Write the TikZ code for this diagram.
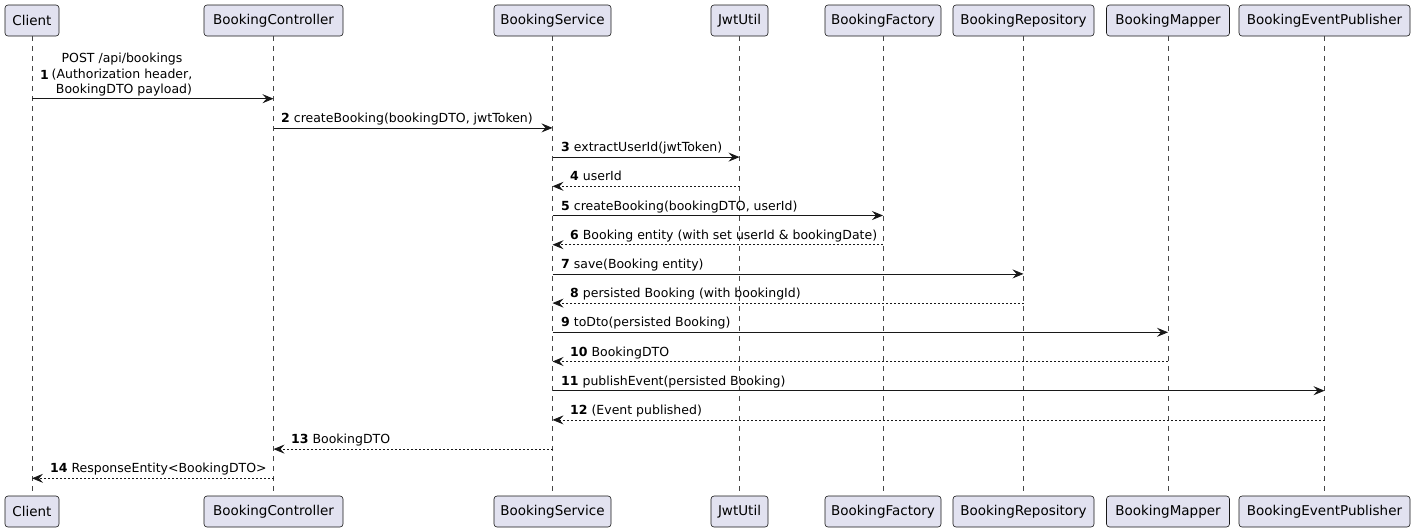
\documentclass[tikz,border=0pt]{standalone}
\usepackage{fontspec}
\setmainfont{DejaVu Sans}
\usetikzlibrary{arrows.meta}
\definecolor{linec}{HTML}{181818}
\definecolor{partfill}{HTML}{E2E2F0}
\begin{document}
\begin{tikzpicture}[x=1pt,y=-1pt,
  part/.style={draw=linec, fill=partfill, rounded corners=3pt, line width=0.6pt,
    font=\fontsize{13.5}{15}\selectfont, inner sep=0pt, minimum height=31pt},
  life/.style={draw=linec!80, line width=0.5pt, dash pattern=on 5pt off 5pt},
  call/.style={draw=linec, line width=0.8pt, -{Stealth[length=11pt,width=9pt,inset=4pt]}},
  reply/.style={call, dash pattern=on 2pt off 2pt},
  lbl/.style={font=\fontsize{12.5}{14}\selectfont, anchor=base west, inner sep=0pt},
]
\useasboundingbox[fill=white] (0,0) rectangle (1415,531);

% participants, top row and bottom row
\foreach \n/\t/\x/\w in {cl/Client/32/54, ctl/BookingController/273.5/139,
    svc/BookingService/552.5/117, jwt/JwtUtil/739.5/57,
    fac/BookingFactory/883/116, repo/BookingRepository/1023.5/141,
    map/BookingMapper/1168/123, pub/BookingEventPublisher/1324.5/171}{
  \node[part, minimum width=\w pt] (\n) at (\x,20.5) {\t};
  \node[part, minimum width=\w pt] (\n B) at (\x,511.5) {\t};
  \draw[life] (\n.south) -- (\n B.north);
}

% message rows
\foreach \k/\y in {1/98.7,2/127.9,3/157.1,4/186.3,5/215.5,6/244.7,7/273.9,
    8/303.1,9/332.3,10/361.5,11/390.7,12/419.9,13/449.1,14/478.3}{
  \coordinate (m\k) at (0,\y);
}

% 1: Client -> BookingController
\draw[call] (cl |- m1) -- (ctl |- m1);
\node[lbl] (n1) at (40,79) {\textbf{1}};
\node[font=\fontsize{12.5}{15.5}\selectfont, align=center, inner sep=0pt, anchor=base]
  (t1) at (122,93.5) {POST /api/bookings\\(Authorization header,\\\ BookingDTO payload)};

% 2
\draw[call] (ctl |- m2) -- (svc |- m2);
\node[lbl] (t2) at (281,122.4) {\textbf{2} createBooking(bookingDTO, jwtToken)};
% 3
\draw[call] (svc |- m3) -- (jwt |- m3);
\node[lbl] (t3) at (561,151.6) {\textbf{3} extractUserId(jwtToken)};
% 4
\draw[reply] (jwt |- m4) -- (svc |- m4);
\node[lbl] (t4) at (570,180.8) {\textbf{4} userId};
% 5
\draw[call] (svc |- m5) -- (fac |- m5);
\node[lbl] (t5) at (561,210) {\textbf{5} createBooking(bookingDTO, userId)};
% 6
\draw[reply] (fac |- m6) -- (svc |- m6);
\node[lbl] (t6) at (570,239.2) {\textbf{6} Booking entity (with set userId \& bookingDate)};
% 7
\draw[call] (svc |- m7) -- (repo |- m7);
\node[lbl] (t7) at (561,268.4) {\textbf{7} save(Booking entity)};
% 8
\draw[reply] (repo |- m8) -- (svc |- m8);
\node[lbl] (t8) at (570,297.6) {\textbf{8} persisted Booking (with bookingId)};
% 9
\draw[call] (svc |- m9) -- (map |- m9);
\node[lbl] (t9) at (561,326.8) {\textbf{9} toDto(persisted Booking)};
% 10
\draw[reply] (map |- m10) -- (svc |- m10);
\node[lbl] (t10) at (570,356) {\textbf{10} BookingDTO};
% 11
\draw[call] (svc |- m11) -- (pub |- m11);
\node[lbl] (t11) at (561,385.2) {\textbf{11} publishEvent(persisted Booking)};
% 12
\draw[reply] (pub |- m12) -- (svc |- m12);
\node[lbl] (t12) at (570,414.4) {\textbf{12} (Event published)};
% 13
\draw[reply] (svc |- m13) -- (ctl |- m13);
\node[lbl] (t13) at (291,443.6) {\textbf{13} BookingDTO};
% 14
\draw[reply] (ctl |- m14) -- (cl |- m14);
\node[lbl] (t14) at (50,472.8) {\textbf{14} ResponseEntity<BookingDTO>};
\end{tikzpicture}
\end{document}
